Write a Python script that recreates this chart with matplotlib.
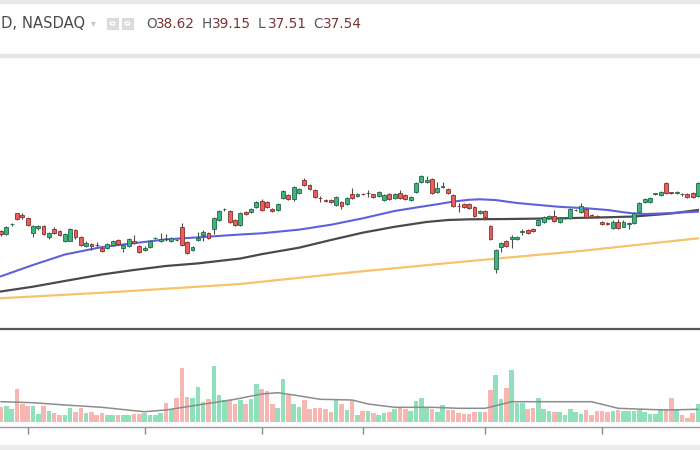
import matplotlib
matplotlib.use('Agg')
import matplotlib.pyplot as plt
from matplotlib.patches import Rectangle, Circle

# Daily candles (price in USD)
opens = [32.30, 31.87, 33.25, 34.83, 34.60, 34.11, 31.97, 32.69, 33.06, 31.49,
         32.54, 32.30, 30.91, 30.91, 32.44, 31.49, 30.16, 30.44, 30.35, 29.87,
         29.83, 30.30, 31.01, 29.87, 30.16, 30.91, 30.16, 29.59, 29.97, 31.27,
         30.87, 31.15, 30.87, 31.05, 32.83, 30.77, 29.59, 31.01, 31.73, 31.97,
         32.54, 33.87, 35.40, 35.20, 33.87, 33.16, 35.01, 34.97, 35.69, 36.63,
         36.44, 35.40, 35.30, 36.97, 37.44, 36.83, 37.69, 39.59, 38.87, 38.16,
         36.99, 36.66, 36.73, 36.01, 36.49, 36.11, 37.54, 37.30, 37.56, 37.68,
         37.54, 37.34, 36.73, 37.54, 36.97, 37.69, 37.44, 36.73, 37.91, 39.34,
         39.34, 39.69, 37.91, 38.60, 38.30, 37.44, 35.90, 36.16, 36.11, 35.77,
         34.83, 35.20, 33.01, 26.83, 29.97, 30.87, 31.11, 31.11, 32.20, 32.44,
         32.54, 33.16, 33.63, 34.11, 34.44, 33.63, 34.11, 34.11, 35.30, 35.06,
         35.40, 34.59, 34.49, 33.63, 33.40, 32.69, 33.63, 32.92, 33.30, 33.49,
         35.06, 36.40, 36.40, 37.60, 37.44, 39.20, 37.80, 37.77, 37.60, 37.60,
         37.69, 37.30]
highs = [32.50, 33.00, 33.50, 34.90, 34.85, 34.30, 33.20, 33.20, 33.20, 32.10,
         32.80, 32.50, 32.00, 32.70, 32.60, 31.60, 30.80, 30.60, 30.77, 30.00,
         30.60, 31.05, 31.15, 30.40, 31.30, 31.73, 30.30, 30.10, 31.05, 31.45,
         32.00, 31.83, 31.40, 31.15, 33.40, 30.90, 30.10, 32.20, 32.45, 32.10,
         34.25, 35.35, 35.55, 35.35, 34.00, 35.05, 35.15, 35.60, 36.60, 36.80,
         36.60, 35.55, 36.30, 38.20, 37.60, 38.80, 38.45, 39.83, 39.00, 38.30,
         37.35, 36.80, 36.85, 37.25, 36.60, 37.10, 38.49, 37.70, 37.70, 38.16,
         37.65, 38.05, 37.60, 37.70, 37.70, 38.16, 37.60, 37.35, 39.25, 40.30,
         40.16, 39.85, 39.34, 39.34, 38.45, 37.60, 36.34, 36.30, 36.25, 35.90,
         35.35, 35.35, 33.15, 29.75, 30.70, 31.00, 31.73, 31.65, 32.54, 32.60,
         32.70, 34.00, 34.40, 34.60, 35.30, 34.35, 34.30, 35.55, 35.45, 36.26,
         35.55, 34.70, 34.60, 33.75, 33.55, 33.80, 34.00, 33.80, 33.65, 35.00,
         36.40, 37.00, 37.10, 37.75, 38.05, 39.35, 37.90, 37.95, 37.75, 37.75,
         37.85, 39.35]
lows = [31.60, 31.70, 33.05, 33.90, 33.95, 33.00, 31.50, 32.50, 31.70, 31.20,
        31.90, 31.60, 30.70, 30.80, 31.20, 30.10, 30.00, 29.60, 29.97, 29.35,
        29.70, 30.15, 30.30, 29.30, 30.00, 30.40, 29.20, 29.40, 29.85, 31.15,
        30.75, 30.90, 30.75, 30.90, 30.15, 28.95, 29.45, 30.90, 30.85, 31.10,
        31.85, 33.70, 35.10, 33.40, 33.00, 33.00, 34.60, 34.85, 35.55, 35.10,
        35.60, 34.95, 35.15, 36.80, 36.70, 36.65, 37.55, 38.70, 38.15, 36.95,
        36.50, 36.50, 36.25, 35.85, 35.40, 35.95, 36.90, 37.15, 37.40, 37.20,
        36.97, 37.20, 36.60, 36.70, 36.80, 36.90, 36.70, 36.60, 37.75, 39.20,
        39.15, 37.55, 37.75, 38.40, 37.55, 35.70, 35.06, 35.55, 35.50, 34.30,
        34.70, 34.10, 30.95, 26.26, 29.34, 30.00, 29.83, 31.00, 31.73, 31.85,
        32.20, 33.00, 33.50, 34.00, 33.60, 33.50, 33.95, 33.95, 35.15, 34.90,
        34.20, 34.10, 34.10, 33.15, 33.20, 32.55, 32.55, 32.80, 32.54, 33.35,
        34.90, 36.25, 36.25, 37.45, 37.30, 37.65, 37.60, 37.60, 37.35, 37.05,
        37.05, 37.15]
closes = [31.83, 32.83, 33.30, 34.00, 34.35, 33.16, 33.00, 33.00, 31.87, 31.97,
          32.06, 31.73, 31.83, 32.59, 31.40, 30.30, 30.63, 30.16, 30.30, 29.49,
          30.44, 30.91, 30.44, 30.26, 31.16, 30.54, 29.34, 29.94, 30.91, 31.30,
          31.11, 31.10, 31.26, 31.00, 30.30, 29.11, 29.97, 31.34, 32.20, 31.26,
          34.11, 35.20, 35.45, 33.54, 33.16, 34.91, 34.73, 35.44, 36.44, 35.30,
          35.77, 35.11, 36.16, 38.06, 36.87, 38.63, 38.30, 38.87, 38.30, 37.11,
          36.95, 36.62, 36.40, 37.11, 35.87, 36.97, 37.06, 37.54, 37.52, 37.70,
          37.20, 37.91, 37.44, 36.83, 37.54, 37.06, 36.83, 37.20, 39.11, 40.16,
          39.59, 37.69, 38.44, 38.63, 37.69, 35.87, 35.87, 35.69, 35.63, 34.44,
          35.20, 34.26, 31.11, 29.59, 30.54, 30.16, 31.40, 31.49, 32.24, 31.97,
          32.37, 33.87, 34.26, 34.44, 33.73, 34.20, 34.15, 35.40, 35.30, 35.87,
          34.34, 34.26, 34.26, 33.30, 33.35, 33.63, 32.69, 33.63, 33.49, 34.83,
          36.26, 36.83, 36.97, 37.63, 37.91, 37.77, 37.75, 37.80, 37.55, 37.20,
          37.20, 39.20]
# Volume in millions of shares
volumes = [1.50, 1.57, 1.33, 3.27, 1.77, 1.57, 1.57, 0.77, 1.57, 1.10,
           0.90, 0.73, 0.73, 1.40, 1.00, 1.43, 0.93, 1.00, 0.73, 0.90,
           0.70, 0.67, 0.67, 0.67, 0.73, 0.83, 0.83, 0.90, 0.73, 0.73,
           0.90, 1.93, 1.33, 2.40, 5.40, 2.50, 2.43, 3.50, 2.00, 2.33,
           5.60, 2.67, 2.17, 2.17, 1.83, 2.17, 1.83, 2.33, 3.83, 3.27,
           3.10, 1.83, 1.43, 4.30, 2.67, 1.83, 1.50, 2.23, 1.33, 1.40,
           1.43, 1.33, 1.00, 2.17, 1.83, 1.23, 2.17, 0.67, 1.10, 1.10,
           0.90, 0.67, 0.90, 1.00, 1.33, 1.40, 1.33, 1.10, 2.10, 2.40,
           1.43, 1.33, 1.00, 1.67, 1.17, 1.23, 0.90, 0.77, 0.77, 1.00,
           1.00, 1.00, 3.23, 4.67, 2.27, 3.40, 5.17, 1.90, 1.90, 1.33,
           1.43, 2.40, 1.33, 1.10, 1.00, 1.00, 0.67, 1.33, 1.00, 0.77,
           1.17, 0.67, 1.10, 1.10, 1.00, 1.10, 1.17, 1.10, 1.10, 1.10,
           1.23, 1.00, 0.83, 0.83, 1.33, 1.33, 2.40, 1.23, 0.73, 0.43,
           0.90, 1.83]

# Moving averages, read at selected bars
ma50_bars = [0, 6, 12, 19, 25, 31, 37, 45, 49, 56, 62, 68, 74, 78, 82, 85, 88, 90, 93,
             97, 101, 105, 110, 114, 117, 119, 121, 124, 128, 131]
ma50 = [25.83, 27.44, 28.94, 30.01, 30.56, 31.10, 31.39, 31.80, 31.97, 32.49, 33.19, 34.11,
        35.16, 35.65, 36.12, 36.50, 36.76, 36.83, 36.72, 36.30, 36.02, 35.75, 35.55, 35.30,
        34.98, 34.80, 34.72, 34.80, 34.95, 35.06]
ma100_bars = [0, 6, 12, 19, 25, 31, 37, 45, 49, 56, 62, 68, 74, 80, 84, 88, 95, 105, 114, 119, 126, 131]
ma100 = [23.66, 24.34, 25.16, 26.09, 26.73, 27.30, 27.67, 28.37, 28.99, 29.91, 31.01, 32.06,
         32.90, 33.59, 33.87, 33.97, 34.01, 34.11, 34.26, 34.37, 34.80, 35.30]
ma200_bars = [0, 22, 45, 66, 88, 109, 131]
ma200 = [22.69, 23.61, 24.73, 26.40, 28.00, 29.45, 31.25]
vol_ma_bars = [0, 6, 12, 19, 25, 27, 31, 37, 44, 49, 52, 55, 60, 66, 69, 74, 81, 86, 91, 96,
               103, 111, 116, 121, 125, 131]
vol_ma = [2.03, 1.93, 1.70, 1.47, 1.13, 1.03, 1.20, 1.70, 2.27, 2.80, 2.93, 2.70, 2.27, 2.20,
          1.80, 1.47, 1.47, 1.37, 1.37, 2.03, 2.03, 2.03, 1.37, 1.27, 1.20, 1.27]

month_ticks = [5, 27, 49, 68, 91, 113]  # first trading day of each month

symbol_text = "D, NASDAQ"
ohlc_letters = ["O", "H", "L", "C"]
ohlc_values = ["38.62", "39.15", "37.51", "37.54"]

W, H = 700, 450  # figure size in pixels
UP, UP_EDGE = '#3fb27d', '#1d6b47'
DOWN, DOWN_EDGE = '#e5615b', '#8a2e2b'


def fx(x):
    return x / W


def fy(y):
    return 1 - y / H


def draw_header(fig):
    fig.patches.append(Rectangle((0, fy(3)), 1, 3 / H, transform=fig.transFigure, color='#e8e9eb'))
    fig.patches.append(Rectangle((0, fy(57)), 1, 3.5 / H, transform=fig.transFigure, color='#e1e5ea'))
    fig.patches.append(Rectangle((0, 0), 1, 5 / H, transform=fig.transFigure, color='#ececec'))
    fig.text(fx(1), fy(24), symbol_text, fontsize=10.6, color='#4a4a4a', va='center', ha='left')
    fig.text(fx(91), fy(23), "\u25be", fontsize=7, color='#c4c4c4', va='center', ha='left')
    # the two little icon buttons
    for x0 in (107, 122):
        fig.patches.append(Rectangle((fx(x0), fy(29)), 11 / W, 11 / H, transform=fig.transFigure,
                                     facecolor='#dcdcdc', edgecolor='#cfcfcf', lw=0.5))
        fig.patches.append(Circle((fx(x0 + 5.5), fy(23.5)), 2.3 / W, transform=fig.transFigure,
                                  facecolor='none', edgecolor='white', lw=1.0))
    letter_x = [146, 202, 258, 313]
    for lx, letter, value in zip(letter_x, ohlc_letters, ohlc_values):
        fig.text(fx(lx), fy(24), letter, fontsize=9.8, color='#555555', va='center', ha='left')
        fig.text(fx(lx + 9.5), fy(24), value, fontsize=9.8, color='#7a3434', va='center', ha='left')


def draw_candles(ax):
    for i, (o, h, l, c) in enumerate(zip(opens, highs, lows, closes)):
        up = c >= o
        ax.vlines(i, l, h, color='#4d4d4d', lw=0.8, zorder=3)
        body = max(abs(c - o), 0.07)
        ax.bar(i, body, bottom=min(o, c), width=0.72, zorder=4,
               color=UP if up else DOWN, edgecolor=UP_EDGE if up else DOWN_EDGE, lw=0.6)


def main():
    fig = plt.figure(figsize=(7, 4.5), dpi=100)
    fig.patch.set_facecolor('white')

    ax = fig.add_axes([0, fy(328), 1, (328 - 57) / H])
    vax = fig.add_axes([0, fy(427), 1, (427 - 329) / H])
    xlim = (-1 / 5.32, 699 / 5.32)

    ax.plot(ma200_bars, ma200, color='#f6c26a', lw=1.6, zorder=2)
    ax.plot(ma100_bars, ma100, color='#4a4a4a', lw=1.6, zorder=2)
    ax.plot(ma50_bars, ma50, color='#6060de', lw=1.5, zorder=2)
    draw_candles(ax)
    ax.set_xlim(*xlim)
    ax.set_ylim(18.44, 57.16)
    ax.axis('off')

    vol_colors = ['#90e0bb' if c >= o else '#f6b7b2' for o, c in zip(opens, closes)]
    vax.bar(range(len(volumes)), volumes, width=0.86, color=vol_colors, zorder=2)
    vax.plot(vol_ma_bars, vol_ma, color='#8c8c8c', lw=1.1, zorder=3)
    vax.set_xlim(*xlim)
    vax.set_ylim(-0.5, 9.3)
    for side in ('left', 'right'):
        vax.spines[side].set_visible(False)
    vax.spines['top'].set_color('#575757')
    vax.spines['top'].set_linewidth(1.6)
    vax.spines['bottom'].set_color('#9a9a9a')
    vax.spines['bottom'].set_linewidth(1.0)
    vax.set_yticks([])
    vax.set_xticks(month_ticks)
    vax.set_xticklabels([])
    vax.tick_params(axis='x', direction='out', length=5, color='#8a8a8a', width=1)

    draw_header(fig)
    fig.savefig('out.png', dpi=100, facecolor='white')


if __name__ == "__main__":
    main()
